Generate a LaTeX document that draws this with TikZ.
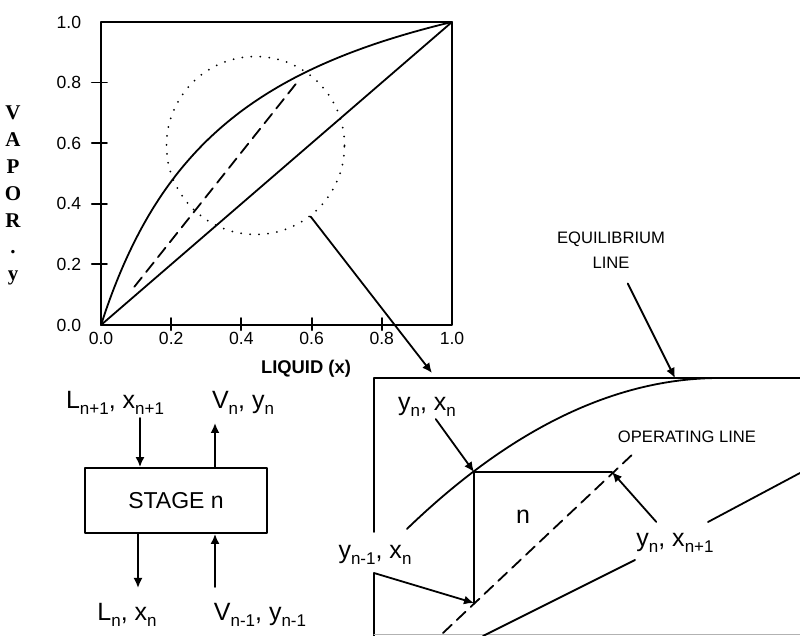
\documentclass[tikz,border=0pt]{standalone}
\usepackage{fontspec}
\setmainfont{Liberation Sans}
\newfontfamily\axisserif{Liberation Serif}
\usetikzlibrary{arrows.meta,calc}

\tikzset{
  arr/.style={-{Latex[length=5pt,width=4.5pt]}},
  opline/.style={dash pattern=on 6pt off 3.5pt},
  dots/.style={line width=1pt, dash pattern=on 0pt off 4.5pt},
  lbl/.style={font=\fontsize{12.5}{14}\selectfont, inner sep=1pt},
  capnote/.style={font=\fontsize{8.3}{12.5}\selectfont, inner sep=0pt, align=center},
  ticklbl/.style={font=\fontsize{8.8}{10}\selectfont, inner sep=0pt},
  yletter/.style={font=\axisserif\bfseries\fontsize{10.5}{12}\selectfont, inner sep=0pt, anchor=base},
}
\newcommand{\lowidx}[1]{\raisebox{-0.4ex}{\fontsize{8.5}{9}\selectfont #1}}

\begin{document}
\begin{tikzpicture}[line width=0.9pt, line cap=round, line join=round, x=0.5pt, y=-0.5pt]
  \useasboundingbox (0,0) rectangle (800,636);
  % x-y diagram.
  \coordinate (O) at (101,325);
  \begin{scope}[shift={(O)}, x=175.5pt, y=151.5pt]
    \draw (0,0) rectangle (1,1);
    \foreach \v in {0.2,0.4,0.6,0.8} {
      \draw (-0.026,\v) -- (0.017,\v);
      \draw (\v,-0.017) -- (\v,0.023);
    }
    \foreach \v/\t [count=\i] in {0/0.0,0.2/0.2,0.4/0.4,0.6/0.6,0.8/0.8,1/1.0} {
      \node[ticklbl, anchor=east] (ylab\i) at (-0.054,\v) {\t};
      \node[ticklbl] (xlab\i) at (\v,-0.043) {\t};
    }
    \draw plot[domain=0:1, samples=80, smooth] (\x, {3.6*\x/(1+2.6*\x)});
    \draw (0,0) -- (1,1);
    \draw[opline] (0.095,0.126) -- (0.565,0.81);
  \end{scope}
  \node[font=\bfseries\fontsize{9.2}{11}\selectfont] (xtitle) at (306,369) {LIQUID (x)};
  \foreach \ch [count=\i] in {V,A,P,O,R,.,y}
    \node[yletter] (vap\i) at (13,{120+26.8*(\i-1)}) {\ch};
  % Magnified region.
  \node[draw, circle, dots, minimum size=89pt, inner sep=0pt] (lens) at (255.5,145.5) {};
  \coordinate (zoomtip) at (432,373);
  \draw[arr] (lens) -- (zoomtip);
  \coordinate (ztr) at (800,378);
  \coordinate (ztl) at (374,378);
  \coordinate (zgap) at (374,532);
  \coordinate (zkink) at (374,573);
  \coordinate (zbl) at (374,636);
  \coordinate (stairtop) at (474,472);
  \coordinate (stairbot) at (474,603);
  \coordinate (stairend) at (612,472);
  \coordinate (eqtip) at (675,378);
  \draw (ztr) -- (ztl) -- (zgap);
  \draw[arr] (zbl) -- (zkink) -- (stairbot);
  \draw[gray!60, line width=0.5pt] (374,635) -- (800,635);
  \draw plot[domain=407:720, samples=60, smooth] (\x, {378+0.154*((720-\x)/10)^2});
  \draw (stairend) -- (stairtop) -- (stairbot);
  \draw[opline] (443,633) -- (635,452);
  \draw (483,636) -- (635,560);
  \draw (708,522) -- (800,473);
  \node[capnote] (eqlab) at (611,250) {EQUILIBRIUM\\LINE};
  \draw[arr, shorten <=8pt] (eqlab) -- (eqtip);
  \node[capnote] (oplab) at (687,437) {OPERATING LINE};
  \node[lbl] (ynxn) at (427,407) {y\lowidx{n}, x\lowidx{n}};
  \draw[arr] (ynxn) -- (stairtop);
  \node[lbl] (yn1xn) at (375,555) {y\lowidx{n-1}, x\lowidx{n}};
  \node[lbl] (ynxn1) at (675,543) {y\lowidx{n}, x\lowidx{n+1}};
  \draw[arr, shorten <=6pt] (ynxn1) -- (stairend);
  \node[lbl] (nlab) at (523,517) {n};
  % Stage balance.
  \node[draw, minimum width=91pt, minimum height=32.5pt, font=\fontsize{11.5}{13}\selectfont] (stage) at (176,500.5) {STAGE n};
  \node[lbl] (feedlab) at (115,403) {L\lowidx{n+1}, x\lowidx{n+1}};
  \node[lbl] (vaplab) at (243,403) {V\lowidx{n}, y\lowidx{n}};
  \node[lbl] (liqlab) at (127,615) {L\lowidx{n}, x\lowidx{n}};
  \node[lbl] (vinlab) at (260,615) {V\lowidx{n-1}, y\lowidx{n-1}};
  \coordinate (feedtop) at (140,418);
  \coordinate (vapend) at (215,423);
  \coordinate (liqend) at (138,588);
  \coordinate (vinstart) at (215,587);
  \draw[arr] (feedtop) -- (feedtop |- stage.north);
  \draw[arr] (vapend |- stage.north) -- (vapend);
  \draw[arr] (liqend |- stage.south) -- (liqend);
  \draw[arr] (vinstart) -- (vinstart |- stage.south);
\end{tikzpicture}
\end{document}
